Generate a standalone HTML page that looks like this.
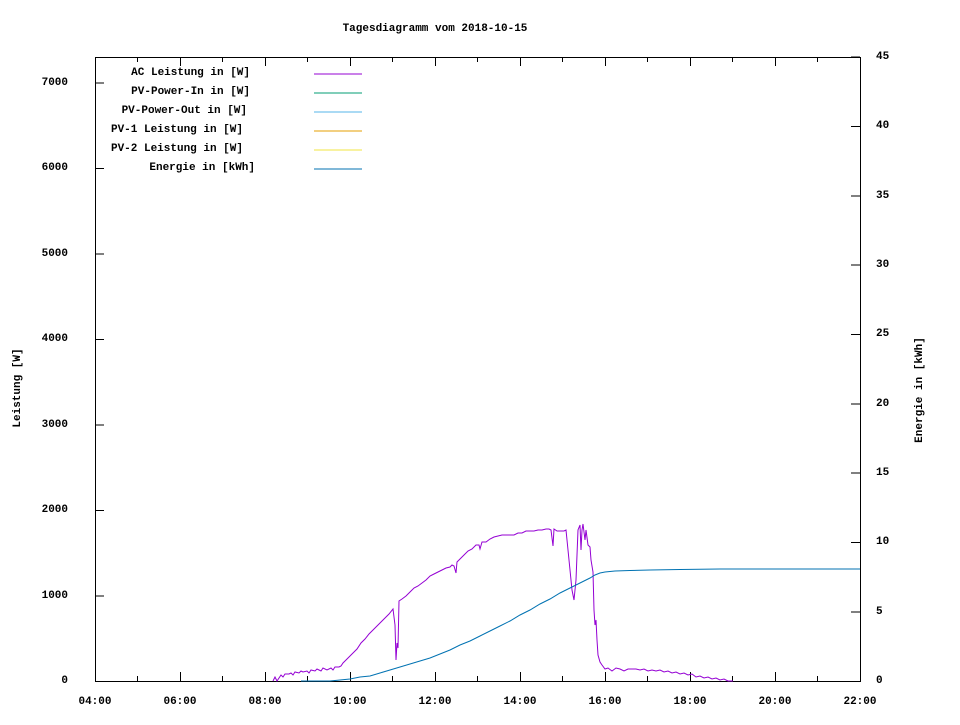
<!DOCTYPE html>
<html><head><meta charset="utf-8"><style>
body{margin:0;background:#fff}
svg text{font-family:"Liberation Mono",monospace;font-size:11px;font-weight:bold;fill:#000}
</style></head><body>
<svg width="960" height="720" xmlns="http://www.w3.org/2000/svg">
<rect width="960" height="720" fill="#fff"/>
<text x="435" y="31" text-anchor="middle">Tagesdiagramm vom 2018-10-15</text>
<rect x="95.5" y="57.5" width="765" height="624" fill="none" stroke="#000"/>
<g stroke="#000">
<path d="M95 596h9M95 510.5h9M95 425h9M95 339.5h9M95 254h9M95 168.5h9M95 83h9"/>
<path d="M860 612h-9M860 542.5h-9M860 473h-9M860 404h-9M860 334.5h-9M860 265h-9M860 196h-9M860 126.5h-9M860 57h-9"/>
<path d="M95.5 681v-9M137.5 681v-5M180.5 681v-9M222.5 681v-5M265.5 681v-9M307.5 681v-5M350.5 681v-9M392.5 681v-5M435.5 681v-9M477.5 681v-5M520.5 681v-9M562.5 681v-5M605.5 681v-9M647.5 681v-5M690.5 681v-9M732.5 681v-5M775.5 681v-9M817.5 681v-5M860.5 681v-9"/>
<path d="M95.5 57v9M137.5 57v5M180.5 57v9M222.5 57v5M265.5 57v9M307.5 57v5M350.5 57v9M392.5 57v5M435.5 57v9M477.5 57v5M520.5 57v9M562.5 57v5M605.5 57v9M647.5 57v5M690.5 57v9M732.5 57v5M775.5 57v9M817.5 57v5"/>
</g>
<g text-anchor="end">
<text x="68" y="683">0</text><text x="68" y="598">1000</text><text x="68" y="512">2000</text><text x="68" y="427">3000</text><text x="68" y="341">4000</text><text x="68" y="256">5000</text><text x="68" y="170">6000</text><text x="68" y="85">7000</text>
</g>
<g text-anchor="start">
<text x="876" y="683">0</text><text x="876" y="614">5</text><text x="876" y="544">10</text><text x="876" y="475">15</text><text x="876" y="406">20</text><text x="876" y="336">25</text><text x="876" y="267">30</text><text x="876" y="198">35</text><text x="876" y="128">40</text><text x="876" y="59">45</text>
</g>
<g text-anchor="middle">
<text x="95" y="704">04:00</text><text x="180" y="704">06:00</text><text x="265" y="704">08:00</text><text x="350" y="704">10:00</text><text x="435" y="704">12:00</text><text x="520" y="704">14:00</text><text x="605" y="704">16:00</text><text x="690" y="704">18:00</text><text x="775" y="704">20:00</text><text x="860" y="704">22:00</text>
</g>
<text transform="translate(20,388) rotate(-90)" text-anchor="middle">Leistung [W]</text>
<text transform="translate(922,390) rotate(-90)" text-anchor="middle">Energie in [kWh]</text>
<g text-anchor="end">
<text x="250" y="75">AC Leistung in [W]</text>
<text x="250" y="94">PV-Power-In in [W]</text>
<text x="247" y="113">PV-Power-Out in [W]</text>
<text x="243" y="132">PV-1 Leistung in [W]</text>
<text x="243" y="151">PV-2 Leistung in [W]</text>
<text x="255" y="170">Energie in [kWh]</text>
</g>
<path d="M314 74h48" stroke="#9400d3"/>
<path d="M314 93h48" stroke="#009e73"/>
<path d="M314 112h48" stroke="#56b4e9"/>
<path d="M314 131h48" stroke="#e69f00"/>
<path d="M314 150h48" stroke="#f0e442"/>
<path d="M314 169h48" stroke="#0072b2"/>
<path fill="none" stroke="#9400d3" d="M273 681L275 677L277 681L281 675L283 677L285 674L289 674L291 673L293 675L295 672L299 673L301 671L303 672L307 671L309 673L311 670L315 671L317 669L321 671L323 668L327 670L331 668L333 670L335 667L339 667L341 666L343 663L345 661L349 657L353 653L357 649L361 643L365 639L369 634L373 630L377 626L381 622L385 618L389 614L393 609L395 625L396 660L397 643L398 648L399 601L402 599L406 596L410 592L414 588L418 586L422 583L426 580L430 576L434 574L438 572L442 570L446 568L450 567L452 565L454 566L456 573L457 562L460 559L464 555L468 551L472 549L476 545L479 545L480 549L482 542L486 542L490 539L494 537L498 536L502 535L506 535L510 535L514 535L518 533L522 533L526 531L530 531L534 531L538 530L542 530L546 529L549 529L551 530L553 546L554 529L557 531L560 531L564 531L566 530L568 550L570 570L572 590L574 600L576 580L578 530L580 525L581 550L582 530L583 524L585 540L586 530L588 545L590 547L591 560L593 572L594 610L595 625L596 620L597 640L598 655L600 662L602 665L605 669L608 668L612 671L616 668L620 669L624 671L628 669L632 669L636 669L640 670L644 669L648 671L652 670L656 671L660 670L664 672L668 671L672 673L676 672L680 674L684 673L688 675L692 674L696 677L700 676L704 678L708 677L712 679L716 678L720 680L724 679L728 681L733 681"/>
<path fill="none" stroke="#0072b2" d="M301 681L330 681L340 680L350 679L360 677L370 676L380 673L390 670L400 667L410 664L420 661L430 658L440 654L450 650L460 645L470 641L480 636L490 631L500 626L510 621L520 615L530 610L540 604L550 599L560 593L570 588L580 583L590 578L595 575L600 573L605 572L615 571L630 570.5L650 570L680 569.5L720 569L860 569"/>
</svg>
</body></html>
